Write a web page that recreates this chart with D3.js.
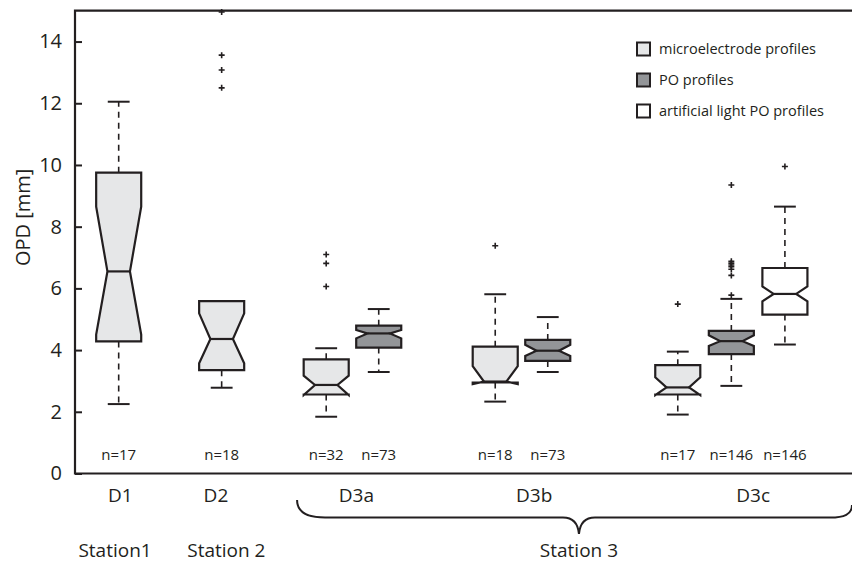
<!DOCTYPE html>
<html>
    <head>
        <meta charset='utf-8'>
        <title>OPD boxplot</title>
        <script src='https://d3js.org/d3.v7.min.js'></script>
        <style>
            body { margin: 0; background: #fff; }
            text { font-family: 'Open Sans', sans-serif; fill: #231f20; }
        </style>
    </head>
    <body>
        <script type="text/javascript">

            // one entry per box, left to right
            var boxPos   = [0, 1.98, 3.99, 5.0, 7.24, 8.25, 10.75, 11.78, 12.81];
            var boxType  = ['micro', 'micro', 'micro', 'po', 'micro', 'po', 'micro', 'po', 'art'];
            var q1       = [4.28, 3.35, 2.56, 4.08, 2.95, 3.65, 2.56, 3.87, 5.15];
            var notchLo  = [4.50, 3.57, 2.54, 4.38, 2.90, 3.81, 2.54, 4.13, 5.58];
            var median   = [6.55, 4.36, 2.87, 4.54, 2.98, 3.98, 2.79, 4.29, 5.82];
            var notchHi  = [8.65, 5.19, 3.17, 4.65, 3.48, 4.17, 3.12, 4.48, 6.06];
            var q3       = [9.75, 5.59, 3.70, 4.79, 4.11, 4.33, 3.51, 4.62, 6.66];
            var whiskLo  = [2.25, 2.78, 1.84, 3.29, 2.33, 3.29, 1.91, 2.84, 4.18];
            var whiskHi  = [12.05, 5.59, 4.06, 5.33, 5.81, 5.07, 3.95, 5.66, 8.65];
            var outliers = [
                [],
                [12.5, 13.08, 13.56, 14.96],
                [6.06, 6.81, 7.1],
                [],
                [7.38],
                [],
                [5.49],
                [5.78, 6.42, 6.62, 6.70, 6.76, 6.82, 6.88, 9.35],
                [9.95]
            ];
            var nCount   = [17, 18, 32, 73, 18, 73, 17, 146, 146];

            var groupNames = ['D1', 'D2', 'D3a', 'D3b', 'D3c'];
            var groupPos   = [0.03, 1.87, 4.57, 7.99, 12.2];
            var stations   = ['Station1', 'Station 2', 'Station 3'];
            var stationPos = [-0.07, 2.07, 8.85];

            var yTicks = [0, 2, 4, 6, 8, 10, 12, 14];

            var legendKeys   = ['micro', 'po', 'art'];
            var legendLabels = ['microelectrode profiles', 'PO profiles', 'artificial light PO profiles'];
            var fills = {micro: '#e6e7e8', po: '#939598', art: '#ffffff'};

            var width = 852;
            var height = 565;
            var ink = '#231f20';

            var svg = d3.select('body')
                        .append('svg')
                        .attr('width', width)
                        .attr('height', height);

            var x = d3.scaleLinear().domain([-0.84, 14.1]).range([75, 852]);
            var y = d3.scaleLinear().domain([0, 15]).range([473.5, 10.7]);

            var halfW = 0.433;   // half box width in position units
            var capW = 0.21;

            // y axis, ticks pointing inward
            svg.append('g')
              .attr('transform', 'translate(75,0)')
              .call(d3.axisLeft(y).tickValues(yTicks).tickSize(-7).tickPadding(13).tickFormat(d3.format('d')))
              .call(function(g) {
                  g.select('.domain').remove();
                  g.selectAll('line').attr('stroke', ink).attr('stroke-width', 2);
                  g.selectAll('text').attr('font-size', 20).attr('font-family', "'Open Sans', sans-serif").attr('fill', ink);
              });

            // frame: top, left, bottom
            var frame = svg.append('g').attr('stroke', ink).attr('stroke-width', 2.2).attr('fill', 'none');
            frame.append('path').attr('d', 'M' + x(14.1) + ',' + y(15) + 'H' + x(-0.84) + 'V' + y(0) + 'H' + x(14.1));

            svg.append('text')
              .attr('transform', 'translate(30,' + y(8.3) + ') rotate(-90)')
              .attr('text-anchor', 'middle')
              .attr('font-size', 20)
              .text('OPD [mm]');

            var idx = d3.range(boxPos.length);

            var boxes = svg.append('g').selectAll('g')
              .data(idx)
              .enter().append('g');

            // whiskers (dashed)
            boxes.append('line')
              .attr('x1', function(i) { return x(boxPos[i]); })
              .attr('x2', function(i) { return x(boxPos[i]); })
              .attr('y1', function(i) { return y(q3[i]); })
              .attr('y2', function(i) { return y(whiskHi[i]); })
              .attr('stroke', ink).attr('stroke-width', 1.6).attr('stroke-dasharray', '6,5');
            boxes.append('line')
              .attr('x1', function(i) { return x(boxPos[i]); })
              .attr('x2', function(i) { return x(boxPos[i]); })
              .attr('y1', function(i) { return y(q1[i]); })
              .attr('y2', function(i) { return y(whiskLo[i]); })
              .attr('stroke', ink).attr('stroke-width', 1.6).attr('stroke-dasharray', '6,5');

            // caps
            [whiskHi, whiskLo].forEach(function(w) {
                boxes.append('line')
                  .attr('x1', function(i) { return x(boxPos[i] - capW); })
                  .attr('x2', function(i) { return x(boxPos[i] + capW); })
                  .attr('y1', function(i) { return y(w[i]); })
                  .attr('y2', function(i) { return y(w[i]); })
                  .attr('stroke', ink).attr('stroke-width', 2);
            });

            // notched box outline
            boxes.append('path')
              .attr('d', function(i) {
                  var L = x(boxPos[i] - halfW), R = x(boxPos[i] + halfW);
                  var Li = x(boxPos[i] - halfW / 2), Ri = x(boxPos[i] + halfW / 2);
                  var p = d3.path();
                  p.moveTo(L, y(q3[i]));
                  p.lineTo(R, y(q3[i]));
                  p.lineTo(R, y(notchHi[i]));
                  p.lineTo(Ri, y(median[i]));
                  p.lineTo(R, y(notchLo[i]));
                  p.lineTo(R, y(q1[i]));
                  p.lineTo(L, y(q1[i]));
                  p.lineTo(L, y(notchLo[i]));
                  p.lineTo(Li, y(median[i]));
                  p.lineTo(L, y(notchHi[i]));
                  p.closePath();
                  return p.toString();
              })
              .attr('fill', function(i) { return fills[boxType[i]]; })
              .attr('stroke', ink).attr('stroke-width', 2.2).attr('stroke-linejoin', 'miter');

            boxes.append('line')
              .attr('x1', function(i) { return x(boxPos[i] - halfW / 2); })
              .attr('x2', function(i) { return x(boxPos[i] + halfW / 2); })
              .attr('y1', function(i) { return y(median[i]); })
              .attr('y2', function(i) { return y(median[i]); })
              .attr('stroke', ink).attr('stroke-width', 2.2);

            // outliers as "+"
            var outs = [];
            idx.forEach(function(i) {
                outliers[i].forEach(function(v) { outs.push({p: boxPos[i], v: v}); });
            });
            svg.append('g').selectAll('path')
              .data(outs)
              .enter().append('path')
              .attr('d', function(d) {
                  var cx = x(d.p), cy = y(d.v);
                  return 'M' + (cx - 3) + ',' + cy + 'H' + (cx + 3) + 'M' + cx + ',' + (cy - 3) + 'V' + (cy + 3);
              })
              .attr('stroke', ink).attr('stroke-width', 1.6);

            // n= labels
            svg.append('g').selectAll('text')
              .data(idx)
              .enter().append('text')
              .attr('x', function(i) { return x(boxPos[i]); })
              .attr('y', y(0.44))
              .attr('text-anchor', 'middle')
              .attr('font-size', 15)
              .text(function(i) { return 'n=' + nCount[i]; });

            // group + station labels under axis
            svg.append('g').selectAll('text')
              .data(groupNames)
              .enter().append('text')
              .attr('x', function(d, i) { return x(groupPos[i]); })
              .attr('y', 502)
              .attr('text-anchor', 'middle')
              .attr('font-size', 19)
              .text(function(d) { return d; });

            svg.append('g').selectAll('text')
              .data(stations)
              .enter().append('text')
              .attr('x', function(d, i) { return x(stationPos[i]); })
              .attr('y', 557)
              .attr('text-anchor', 'middle')
              .attr('font-size', 19)
              .text(function(d) { return d; });

            // brace over station 3
            var bl = x(3.43), br = x(14.1), bt = x(stationPos[2]);
            var by = 517.5;
            svg.append('path')
              .attr('d', 'M' + bl + ',500 C' + bl + ',512 ' + (bl + 10) + ',' + by + ' ' + (bl + 28) + ',' + by +
                         ' L' + (bt - 16) + ',' + by +
                         ' C' + (bt - 6) + ',' + by + ' ' + (bt - 1) + ',' + (by + 5) + ' ' + bt + ',534' +
                         ' C' + (bt + 1) + ',' + (by + 5) + ' ' + (bt + 6) + ',' + by + ' ' + (bt + 16) + ',' + by +
                         ' L' + (br - 22) + ',' + by +
                         ' C' + (br - 8) + ',' + by + ' ' + br + ',' + (by - 3) + ' ' + br + ',505')
              .attr('fill', 'none')
              .attr('stroke', ink)
              .attr('stroke-width', 2);

            // legend
            var legend = svg.append('g').selectAll('g')
              .data(legendKeys)
              .enter().append('g')
              .attr('transform', function(d, i) { return 'translate(637,' + (42.5 + i * 31) + ')'; });

            legend.append('rect')
              .attr('width', 13).attr('height', 13)
              .attr('fill', function(d) { return fills[d]; })
              .attr('stroke', ink).attr('stroke-width', 2);

            legend.append('text')
              .attr('x', 22)
              .attr('y', 11.5)
              .attr('font-size', 14.5)
              .text(function(d, i) { return legendLabels[i]; });

        </script>
    </body>
</html>
